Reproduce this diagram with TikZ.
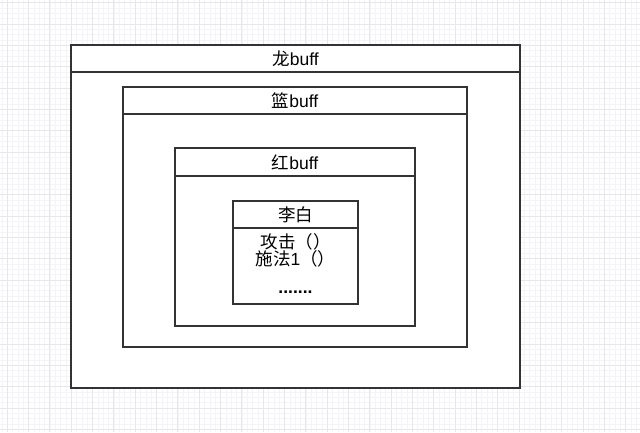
\documentclass[tikz,border=0pt]{standalone}
\usepackage{fontspec}
\setmainfont{Liberation Sans}
\newfontfamily\cjk{Noto Sans CJK SC}
\usepackage{tikz}
\definecolor{linegray}{HTML}{333333}
\definecolor{gridmajor}{HTML}{E6E6EE}
\definecolor{gridminor}{HTML}{F4F4F8}

\begin{document}
\begin{tikzpicture}[x=1pt,y=-1pt,
  box/.style={draw=linegray,line width=2pt,fill=white,inner sep=0pt},
  head/.style={box,anchor=north,font=\fontsize{17.5}{17}\selectfont}]
\useasboundingbox (0,0) rectangle (640,432);
\fill[white] (0,0) rectangle (640,432);
% grid paper
\foreach \i in {0,...,120} \draw[gridminor,line width=0.5pt] ({1.77+5.333*\i},0) -- ++(0,432);
\foreach \i in {0,...,81} \draw[gridminor,line width=0.5pt] (0,{2.7+5.333*\i}) -- ++(640,0);
\foreach \i in {0,...,30} \draw[gridmajor,line width=0.8pt] ({7.1+21.333*\i},0) -- ++(0,432);
\foreach \i in {0,...,20} \draw[gridmajor,line width=0.8pt] (0,{2.7+21.333*\i}) -- ++(640,0);
% nested boxes
\node[box,minimum width=449pt,minimum height=343pt] (long) at (295.5,216.5) {};
\node[head,minimum width=449pt,minimum height=27pt] (longh) at (long.north) {{\cjk 龙}buff};
\node[box,minimum width=344pt,minimum height=260pt] (lan) at (295,217) {};
\node[head,minimum width=344pt,minimum height=27pt] (lanh) at (lan.north) {{\cjk 篮}buff};
\node[box,minimum width=240pt,minimum height=178pt] (hong) at (295,237) {};
\node[head,minimum width=240pt,minimum height=28pt] (hongh) at (hong.north) {{\cjk 红}buff};
\node[box,minimum width=125pt,minimum height=103pt] (libai) at (295.5,252.5) {};
\node[head,minimum width=125pt,minimum height=27pt] (libaih) at (libai.north) {\cjk 李白};
\node[anchor=north,align=center,inner sep=0pt,font=\fontsize{17.5}{17}\selectfont]
  (libaibody) at ([yshift=-4pt]libaih.south) {{\cjk 攻击（）}\\{\cjk 施法}1{\cjk （）}\\[11pt]\textbf{.......}};
\end{tikzpicture}
\end{document}
